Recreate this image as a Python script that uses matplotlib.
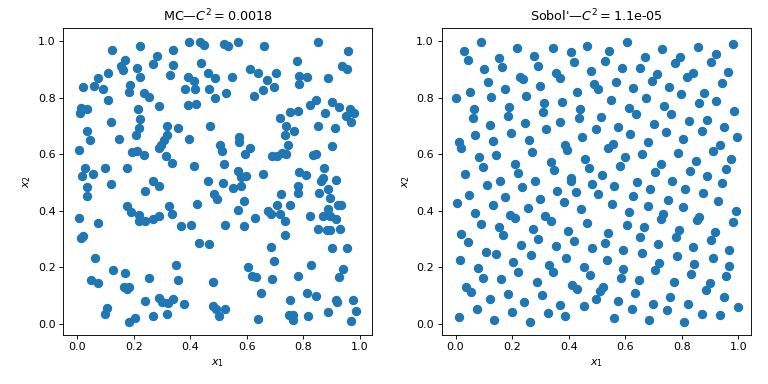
import matplotlib
matplotlib.use("Agg")
import matplotlib.pyplot as plt

# ---- data ----
mc_x = [0.122, 0.224, 0.396, 0.436, 0.449, 0.171, 0.156, 0.162, 0.210, 0.282, 0.267, 0.340, 0.340, 0.329,
        0.437, 0.463, 0.487, 0.392, 0.415, 0.382, 0.417, 0.466, 0.487, 0.392, 0.421, 0.110, 0.072, 0.061,
        0.022, 0.092, 0.186, 0.183, 0.224, 0.238, 0.253, 0.110, 0.290, 0.214, 0.015, 0.034, 0.010, 0.221,
        0.119, 0.220, 0.209, 0.319, 0.357, 0.470, 0.036, 0.047, 0.147, 0.319, 0.307, 0.295, 0.290, 0.397,
        0.005, 0.195, 0.212, 0.235, 0.315, 0.334, 0.414, 0.026, 0.016, 0.057, 0.099, 0.177,
        # lower left
        0.119, 0.035, 0.035, 0.270, 0.288, 0.241, 0.463, 0.483, 0.494, 0.175, 0.189, 0.220, 0.218, 0.241,
        0.268, 0.288, 0.325, 0.334, 0.366, 0.404, 0.424, 0.431, 0.466, 0.005, 0.072, 0.012, 0.020, 0.064,
        0.126, 0.169, 0.049, 0.072, 0.166, 0.185, 0.177, 0.253, 0.350, 0.358, 0.480, 0.239, 0.290, 0.300,
        0.323, 0.340, 0.379, 0.480, 0.492, 0.501, 0.104, 0.099, 0.185, 0.203, 0.267, 0.319,
        # upper right
        0.521, 0.535, 0.568, 0.661, 0.853, 0.958, 0.777, 0.938, 0.956, 0.612, 0.638, 0.704, 0.672, 0.696,
        0.659, 0.626, 0.547, 0.526, 0.783, 0.812, 0.783, 0.886, 0.844, 0.824, 0.903, 0.927, 0.964, 0.978,
        0.950, 0.970, 0.876, 0.754, 0.781, 0.716, 0.739, 0.851, 0.911, 0.766, 0.734, 0.573, 0.573, 0.505,
        0.512, 0.612, 0.593, 0.745, 0.903, 0.690, 0.707, 0.725, 0.740, 0.836, 0.845, 0.519, 0.570, 0.597,
        0.579, 0.659, 0.783, 0.809, 0.874, 0.868,
        # lower right
        0.515, 0.550, 0.579, 0.781, 0.781, 0.861, 0.886, 0.914, 0.857, 0.896, 0.721, 0.591, 0.570, 0.707,
        0.752, 0.676, 0.684, 0.717, 0.734, 0.629, 0.522, 0.591, 0.734, 0.822, 0.871, 0.888, 0.896, 0.917,
        0.923, 0.935, 0.853, 0.882, 0.896, 0.931, 0.902, 0.956, 0.686, 0.696, 0.605, 0.620, 0.632, 0.690,
        0.781, 0.826, 0.941, 0.927, 0.652, 0.753, 0.812, 0.844, 0.915, 0.920, 0.976, 0.987, 0.970, 0.886,
        0.816, 0.762, 0.748, 0.762, 0.522, 0.641]
mc_y = [0.968, 0.982, 0.998, 0.998, 0.988, 0.935, 0.914, 0.898, 0.904, 0.949, 0.918, 0.970, 0.917, 0.882,
        0.922, 0.887, 0.870, 0.875, 0.861, 0.830, 0.830, 0.830, 0.798, 0.774, 0.778, 0.887, 0.870, 0.843,
        0.839, 0.830, 0.844, 0.822, 0.875, 0.816, 0.804, 0.791, 0.770, 0.759, 0.765, 0.762, 0.745, 0.725,
        0.715, 0.693, 0.670, 0.699, 0.695, 0.699, 0.683, 0.651, 0.656, 0.669, 0.652, 0.634, 0.624, 0.656,
        0.617, 0.609, 0.612, 0.596, 0.593, 0.571, 0.560, 0.553, 0.522, 0.532, 0.553, 0.553,
        # lower left
        0.496, 0.485, 0.452, 0.505, 0.489, 0.469, 0.505, 0.461, 0.442, 0.418, 0.396, 0.384, 0.363, 0.363,
        0.372, 0.383, 0.416, 0.389, 0.348, 0.351, 0.424, 0.286, 0.283, 0.375, 0.357, 0.304, 0.310, 0.233,
        0.191, 0.180, 0.156, 0.144, 0.130, 0.130, 0.123, 0.163, 0.209, 0.156, 0.148, 0.082, 0.091, 0.079,
        0.073, 0.089, 0.070, 0.064, 0.052, 0.028, 0.058, 0.035, 0.008, 0.020, 0.028, 0.035,
        # upper right
        0.991, 0.985, 0.996, 0.985, 0.996, 0.965, 0.931, 0.911, 0.902, 0.902, 0.887, 0.887, 0.864, 0.837,
        0.827, 0.807, 0.875, 0.818, 0.878, 0.875, 0.849, 0.869, 0.793, 0.775, 0.784, 0.768, 0.762, 0.745,
        0.734, 0.716, 0.748, 0.751, 0.754, 0.730, 0.701, 0.701, 0.695, 0.683, 0.669, 0.662, 0.644, 0.634,
        0.612, 0.622, 0.603, 0.632, 0.630, 0.595, 0.595, 0.606, 0.600, 0.597, 0.603, 0.567, 0.541, 0.524,
        0.520, 0.530, 0.539, 0.527, 0.550, 0.518,
        # lower right
        0.499, 0.481, 0.487, 0.487, 0.463, 0.505, 0.478, 0.511, 0.463, 0.446, 0.461, 0.434, 0.402, 0.422,
        0.422, 0.398, 0.389, 0.389, 0.363, 0.375, 0.351, 0.348, 0.316, 0.381, 0.381, 0.407, 0.381, 0.371,
        0.422, 0.422, 0.336, 0.331, 0.331, 0.336, 0.268, 0.268, 0.272, 0.223, 0.201, 0.170, 0.165, 0.160,
        0.171, 0.209, 0.194, 0.165, 0.109, 0.085, 0.109, 0.100, 0.085, 0.079, 0.085, 0.046, 0.011, 0.041,
        0.028, 0.032, 0.032, 0.014, 0.052, 0.018]

sobol_x = [0.089, 0.030, 0.044, 0.216, 0.154, 0.164, 0.279, 0.293, 0.344, 0.407, 0.418, 0.464, 0.101, 0.115,
           0.228, 0.240, 0.354, 0.368, 0.478, 0.489, 0.051, 0.000, 0.126, 0.176, 0.250, 0.300, 0.428, 0.065,
           0.062, 0.190, 0.186, 0.314, 0.311, 0.376, 0.439, 0.437, 0.122, 0.247, 0.320, 0.370, 0.496, 0.069,
           0.196, 0.133, 0.261, 0.446, 0.012, 0.020, 0.386, 0.395, 0.270, 0.083, 0.144, 0.459, 0.471, 0.097,
           0.210, 0.222, 0.336, 0.348, 0.033, 0.407,
           # upper right
           0.606, 0.544, 0.529, 0.588, 0.671, 0.654, 0.731, 0.794, 0.776, 0.859, 0.923, 0.903, 0.980, 0.713,
           0.695, 0.820, 0.840, 0.962, 0.944, 0.505, 0.567, 0.628, 0.756, 0.798, 0.879, 0.861, 0.923, 0.549,
           0.674, 0.612, 0.638, 0.737, 0.763, 0.986, 0.514, 0.574, 0.702, 0.745, 0.827, 0.891, 0.870, 0.950,
           0.994, 0.618, 0.681, 0.805, 0.539, 0.556, 0.911, 0.934, 0.660, 0.788, 0.599, 0.581, 0.727, 0.707,
           0.852, 0.830, 0.976, 0.956, 0.517, 0.891,
           # lower left
           0.113, 0.158, 0.235, 0.282, 0.359, 0.407, 0.425, 0.484, 0.047, 0.004, 0.133, 0.176, 0.299, 0.382,
           0.069, 0.089, 0.192, 0.211, 0.257, 0.317, 0.338, 0.442, 0.464, 0.021, 0.044, 0.152, 0.167, 0.275,
           0.293, 0.399, 0.418, 0.107, 0.144, 0.231, 0.267, 0.357, 0.482, 0.015, 0.081, 0.097, 0.204, 0.222,
           0.329, 0.346, 0.391, 0.453, 0.474, 0.160, 0.288, 0.036, 0.055, 0.184, 0.306, 0.413, 0.431, 0.122,
           0.243, 0.371, 0.453, 0.496, 0.077, 0.199, 0.327, 0.386, 0.012, 0.136, 0.263,
           # lower right
           0.562, 0.642, 0.689, 0.766, 0.811, 0.941, 0.503, 0.628, 0.554, 0.680, 0.752, 0.805, 0.877, 0.929,
           0.612, 0.606, 0.668, 0.654, 0.733, 0.728, 0.792, 0.781, 0.861, 0.855, 0.917, 0.903, 0.991, 0.980,
           0.539, 0.529, 0.592, 0.660, 0.717, 0.535, 0.720, 0.705, 0.784, 0.841, 0.843, 0.834, 0.909, 0.969,
           0.968, 0.958, 0.594, 0.585, 0.649, 0.772, 0.899, 0.885, 0.523, 0.511, 0.635, 0.760, 0.948, 0.573,
           0.699, 0.624, 0.749, 0.823, 1.000, 0.560, 0.684, 0.808, 0.873, 0.934]
sobol_y = [0.996, 0.966, 0.934, 0.975, 0.940, 0.910, 0.949, 0.914, 0.978, 0.961, 0.926, 0.985, 0.901, 0.857,
           0.875, 0.866, 0.889, 0.871, 0.896, 0.848, 0.822, 0.798, 0.804, 0.833, 0.807, 0.843, 0.822, 0.762,
           0.729, 0.768, 0.736, 0.780, 0.751, 0.786, 0.759, 0.727, 0.703, 0.712, 0.688, 0.715, 0.691, 0.668,
           0.676, 0.648, 0.650, 0.662, 0.642, 0.621, 0.632, 0.617, 0.609, 0.591, 0.596, 0.582, 0.552, 0.556,
           0.567, 0.535, 0.573, 0.544, 0.532, 0.518,
           # upper right
           0.996, 0.967, 0.931, 0.904, 0.943, 0.907, 0.972, 0.946, 0.922, 0.981, 0.954, 0.928, 0.989, 0.883,
           0.861, 0.875, 0.887, 0.892, 0.851, 0.830, 0.857, 0.836, 0.839, 0.812, 0.816, 0.780, 0.790, 0.794,
           0.800, 0.765, 0.743, 0.772, 0.743, 0.754, 0.733, 0.697, 0.708, 0.680, 0.719, 0.723, 0.683, 0.697,
           0.662, 0.671, 0.644, 0.656, 0.624, 0.638, 0.612, 0.632, 0.602, 0.605, 0.589, 0.559, 0.567, 0.538,
           0.577, 0.541, 0.585, 0.548, 0.526, 0.524,
           # lower left
           0.493, 0.505, 0.486, 0.507, 0.472, 0.507, 0.466, 0.495, 0.457, 0.428, 0.422, 0.450, 0.442, 0.430,
           0.392, 0.353, 0.385, 0.375, 0.410, 0.383, 0.365, 0.407, 0.357, 0.318, 0.291, 0.344, 0.314, 0.336,
           0.300, 0.329, 0.293, 0.255, 0.247, 0.279, 0.245, 0.275, 0.268, 0.227, 0.197, 0.162, 0.220, 0.184,
           0.209, 0.184, 0.233, 0.200, 0.173, 0.158, 0.147, 0.132, 0.113, 0.105, 0.102, 0.137, 0.123, 0.090,
           0.076, 0.066, 0.063, 0.090, 0.052, 0.043, 0.038, 0.028, 0.025, 0.014, 0.006,
           # lower right
           0.489, 0.501, 0.478, 0.507, 0.478, 0.498, 0.460, 0.454, 0.424, 0.418, 0.439, 0.415, 0.463, 0.436,
           0.395, 0.350, 0.344, 0.306, 0.389, 0.371, 0.333, 0.306, 0.379, 0.368, 0.324, 0.297, 0.398, 0.359,
           0.322, 0.286, 0.261, 0.251, 0.283, 0.227, 0.215, 0.190, 0.239, 0.273, 0.212, 0.176, 0.233, 0.261,
           0.206, 0.169, 0.194, 0.164, 0.156, 0.149, 0.144, 0.119, 0.131, 0.117, 0.109, 0.096, 0.096, 0.082,
           0.072, 0.052, 0.048, 0.070, 0.060, 0.020, 0.013, 0.006, 0.034, 0.031]

panel_titles = ["MC—$C^2 = 0.0018$", "Sobol'—$C^2 = $1.1e-05"]
x_label = "$x_1$"
y_label = "$x_2$"

DPI = 80
fig = plt.figure(figsize=(768 / DPI, 384 / DPI), dpi=DPI)
ax1 = fig.add_axes([63.3 / 768, 1 - 334.7 / 384, 309 / 768, 306.4 / 384])
ax2 = fig.add_axes([441.7 / 768, 1 - 334.7 / 384, 309 / 768, 306.4 / 384])

for ax, xs, ys, title in [(ax1, mc_x, mc_y, panel_titles[0]),
                          (ax2, sobol_x, sobol_y, panel_titles[1])]:
    ax.scatter(xs, ys, s=55, color="C0")
    ax.set_title(title, fontsize=11.5)
    ax.set_xlabel(x_label)
    ax.set_ylabel(y_label)
    ax.set_xticks([0.0, 0.2, 0.4, 0.6, 0.8, 1.0])
    ax.set_yticks([0.0, 0.2, 0.4, 0.6, 0.8, 1.0])
    ax.set_xlim(-0.049, 1.044)
    ax.set_ylim(-0.038, 1.046)

fig.savefig("out.png", dpi=DPI)
